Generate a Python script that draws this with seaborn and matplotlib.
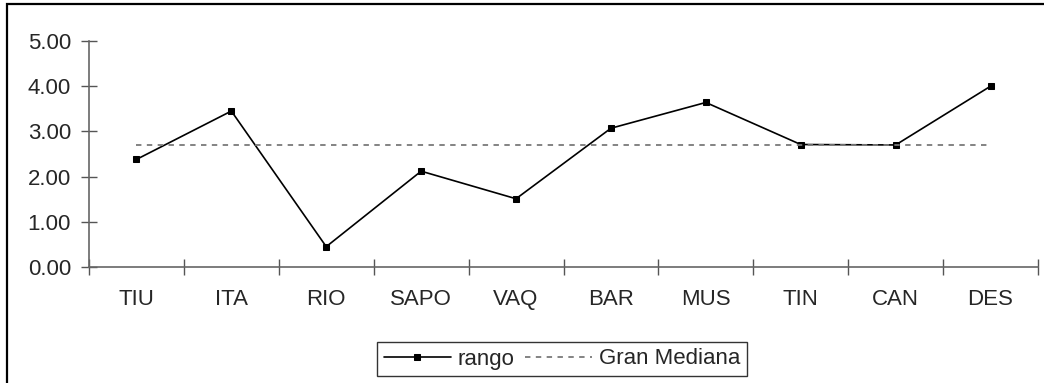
import seaborn as sns
import pandas as pd
import matplotlib.pyplot as plt
from matplotlib.patches import Rectangle

sitios = ["TIU", "ITA", "RIO", "SAPO", "VAQ", "BAR", "MUS", "TIN", "CAN", "DES"]
rango = [2.38, 3.45, 0.45, 2.12, 1.51, 3.07, 3.64, 2.71, 2.70, 4.00]
gran_mediana = 2.70
y_ticks = [0, 1, 2, 3, 4, 5]

sns.set_style("white")
plt.rcParams['font.family'] = ['Liberation Sans', 'DejaVu Sans']

df = pd.DataFrame({"sitio": sitios, "rango": rango})
df["pos"] = range(len(sitios))
df["mediana"] = gran_mediana

fig = plt.figure(figsize=(10.44, 3.83), dpi=100)
ax = fig.add_axes([89/1044, 1-267/383, (1038-89)/1044, (267-41)/383])

sns.lineplot(data=df, x="pos", y="rango", ax=ax, color="black", lw=1.2,
             marker="s", markersize=5, markeredgecolor="black", label="rango")
sns.lineplot(data=df, x="pos", y="mediana", ax=ax, color="#7a7a7a", lw=1.3,
             dashes=False, linestyle=(0, (3, 3)), label="Gran Mediana")

ax.set_xlim(-0.5, len(sitios) - 0.5)
ax.set_ylim(0, 5)
ax.set_yticks(y_ticks)
ax.set_yticklabels([f"{v:.2f}" for v in y_ticks], fontsize=16)
ax.set_xticks([i + 0.5 for i in range(-1, len(sitios))], minor=False)
ax.set_xticklabels([])
ax.set_xticks(range(len(sitios)), minor=True)
ax.set_xticklabels(sitios, minor=True, fontsize=16)
ax.tick_params(axis="x", which="minor", bottom=True, length=0, pad=16)
ax.tick_params(axis="x", which="major", bottom=True, direction="inout",
               length=12, width=1, color="#555555")
ax.tick_params(axis="y", left=True, direction="inout", length=12, width=1,
               color="#555555", pad=7)
ax.set_xlabel("")
ax.set_ylabel("")
for s in ["top", "right"]:
    ax.spines[s].set_visible(False)
for s in ["left", "bottom"]:
    ax.spines[s].set_color("#666666")
    ax.spines[s].set_linewidth(1.2)

ax.get_legend().remove()
h, l = ax.get_legend_handles_labels()
leg = fig.legend(h, l, loc="center", bbox_to_anchor=(562/1044, 1-359/383),
                 ncol=2, fontsize=16, frameon=True, fancybox=False,
                 edgecolor="black", handlelength=3.0, handletextpad=0.3,
                 columnspacing=0.5, borderpad=0.3)
leg.get_frame().set_linewidth(1.0)

fig.patches.append(Rectangle((7/1044, -0.1), 1.2, 1 - 4/383 + 0.1,
                             transform=fig.transFigure, fill=False,
                             edgecolor="black", lw=1.6))

fig.savefig("out.png", dpi=100)
